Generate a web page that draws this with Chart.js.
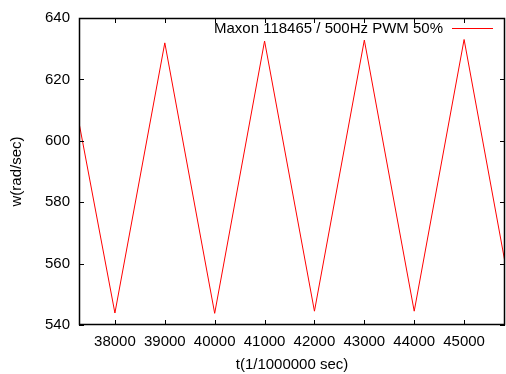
<!DOCTYPE html>
<html>
<head>
<meta charset="utf-8">
<script src="https://cdn.jsdelivr.net/npm/chart.js@4/dist/chart.umd.min.js"></script>
<style>
  body { margin: 0; background: #fff; }
  canvas { display: block; }
</style>
</head>
<body>
<canvas id="grafico" width="506" height="374"></canvas>
<script>
// ====== DADOS ======
const tempos = [37000, 38000, 39000, 40000, 41000, 42000, 43000, 44000, 45000, 46000];
const velocidades = [630, 543.9, 631.9, 543.8, 632.5, 544.5, 632.8, 544.5, 633, 544.5];
const ticksX = [38000, 39000, 40000, 41000, 42000, 43000, 44000, 45000];
const ticksY = [540, 560, 580, 600, 620, 640];
const legenda = 'Maxon 118465 / 500Hz PWM 50%';

const fonte = '"Liberation Sans", Arial, sans-serif';

// moldura + ticks para dentro (estilo gnuplot) + legenda
const estiloGnuplot = {
  id: 'estiloGnuplot',
  afterDraw(chart) {
    const c = chart.ctx;
    const a = chart.chartArea;
    const sx = chart.scales.x;
    const sy = chart.scales.y;
    c.save();
    c.strokeStyle = '#000';
    c.lineWidth = 1;
    c.beginPath();
    sx.ticks.forEach(t => {
      const px = Math.round(sx.getPixelForValue(t.value)) + 0.5;
      c.moveTo(px, a.bottom); c.lineTo(px, a.bottom - 5);
      c.moveTo(px, a.top); c.lineTo(px, a.top + 5);
    });
    sy.ticks.forEach(t => {
      const py = Math.round(sy.getPixelForValue(t.value)) + 0.5;
      c.moveTo(a.left, py); c.lineTo(a.left + 5, py);
      c.moveTo(a.right, py); c.lineTo(a.right - 5, py);
    });
    c.stroke();
    c.lineWidth = 1.5;
    c.strokeRect(a.left + 0.5, a.top + 0.5, a.right - a.left - 1, a.bottom - a.top - 1);

    // legenda
    const ds = chart.data.datasets[0];
    c.font = '15px ' + fonte;
    c.fillStyle = '#000';
    c.textAlign = 'right';
    c.textBaseline = 'middle';
    c.fillText(ds.label, 443, 29);
    c.strokeStyle = ds.borderColor;
    c.lineWidth = 1;
    c.beginPath();
    c.moveTo(452, 28.5); c.lineTo(493, 28.5);
    c.stroke();
    c.restore();
  }
};

new Chart(document.getElementById('grafico').getContext('2d'), {
  type: 'line',
  data: {
    datasets: [{
      label: legenda,
      data: tempos.map((t, i) => ({ x: t, y: velocidades[i] })),
      borderColor: '#ff0000',
      borderWidth: 1,
      pointRadius: 0,
      tension: 0,
      fill: false
    }]
  },
  options: {
    responsive: false,
    animation: false,
    layout: { padding: { top: 16, right: 1, left: 0, bottom: 0 } },
    plugins: { legend: { display: false }, tooltip: { enabled: false } },
    scales: {
      x: {
        type: 'linear',
        min: 37280,
        max: 45820,
        afterBuildTicks: s => { s.ticks = ticksX.map(v => ({ value: v })); },
        afterFit: s => { s.height = 49; },
        grid: { display: false, drawTicks: false },
        border: { display: false },
        ticks: { color: '#000', font: { family: fonte, size: 15 }, padding: 8, maxRotation: 0, callback: v => String(v) },
        title: { display: true, text: 't(1/1000000 sec)', color: '#000', font: { family: fonte, size: 15 }, padding: { top: 2, bottom: 0 } }
      },
      y: {
        min: 540,
        max: 640,
        afterBuildTicks: s => { s.ticks = ticksY.map(v => ({ value: v })); },
        afterFit: s => { s.width = 79; },
        grid: { display: false, drawTicks: false },
        border: { display: false },
        ticks: { color: '#000', font: { family: fonte, size: 15 }, padding: 9 },
        title: { display: true, text: 'w(rad/sec)', color: '#000', font: { family: fonte, size: 15 }, padding: { top: 8, bottom: 0 } }
      }
    }
  },
  plugins: [estiloGnuplot]
});
</script>
</body>
</html>
